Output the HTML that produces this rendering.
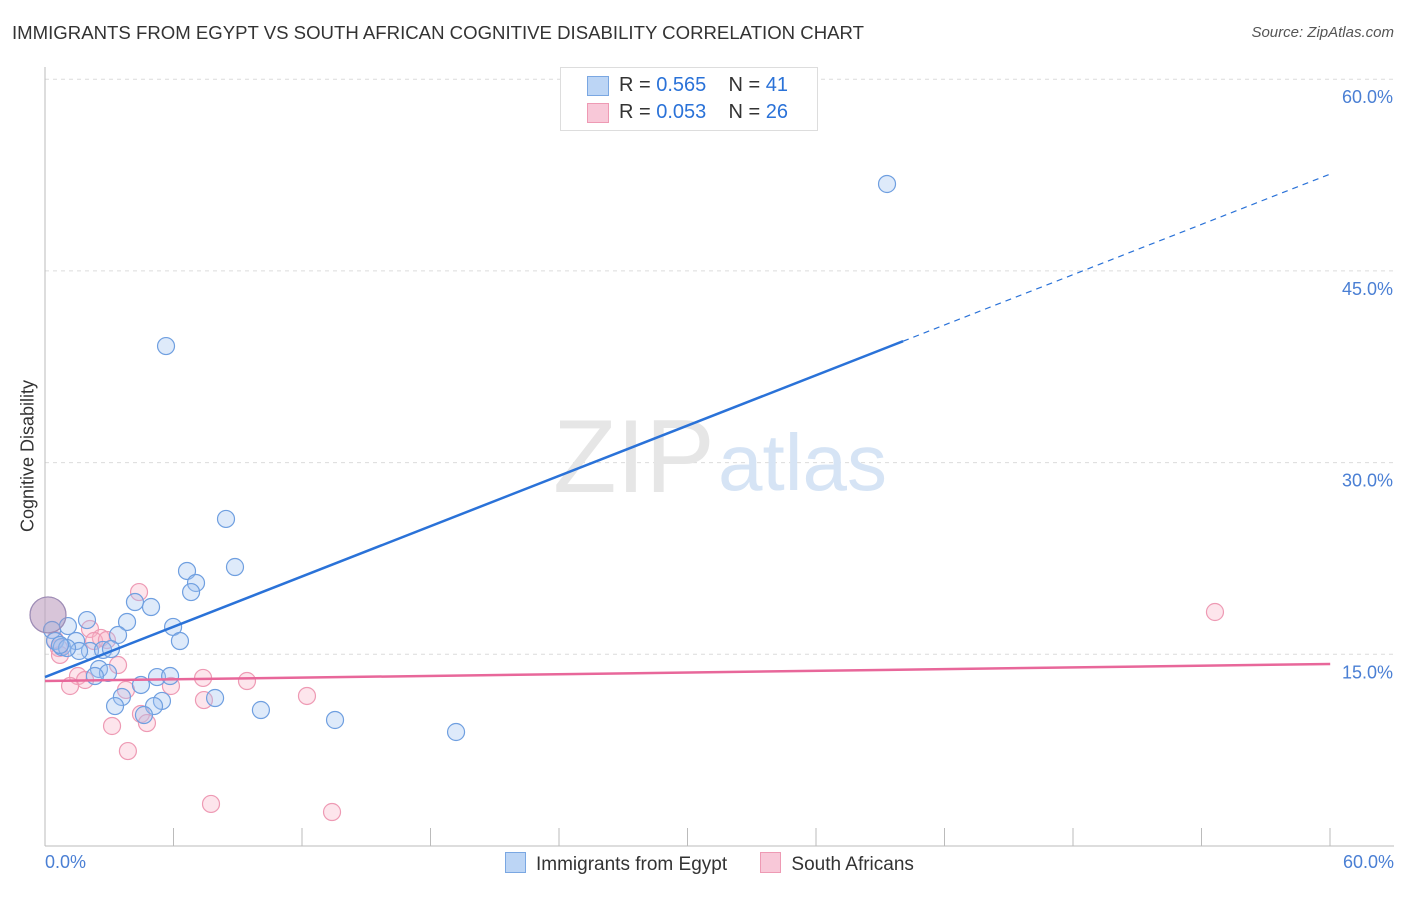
<!DOCTYPE html>
<html><head><meta charset="utf-8"><style>
body{margin:0;background:#fff;font-family:"Liberation Sans",sans-serif}
svg text{font-family:"Liberation Sans",sans-serif}
</style></head><body>
<svg id="c" width="1406" height="892"></svg>
<script>
const blueX=[39.31,5.65,8.45,8.87,6.63,7.05,6.82,4.20,4.95,1.96,3.83,5.98,1.07,0.33,3.41,6.30,0.47,1.45,0.79,2.10,2.71,3.08,1.59,1.03,2.52,2.94,2.33,5.23,5.84,4.48,3.59,7.94,5.46,3.27,5.09,4.62,10.08,13.54,19.19,0.14,0.70];
const blueY=[51.80,39.12,25.59,21.83,21.52,20.58,19.87,19.09,18.70,17.68,17.53,17.14,17.21,16.90,16.51,16.04,16.04,16.04,15.57,15.26,15.34,15.41,15.26,15.49,13.85,13.54,13.30,13.22,13.30,12.60,11.66,11.58,11.35,10.95,10.95,10.25,10.64,9.86,8.92,18.08,15.73];
const pinkX=[54.62,4.39,2.10,2.61,2.29,2.89,0.65,0.70,3.41,1.54,1.87,1.17,3.78,5.88,7.38,9.43,7.42,12.23,4.48,3.13,4.76,3.87,7.75,13.40,0.14,0.47];
const pinkY=[18.31,19.87,16.98,16.28,16.04,16.12,15.49,14.95,14.16,13.30,12.99,12.52,12.21,12.52,13.15,12.91,11.42,11.74,10.33,9.39,9.62,7.43,3.29,2.66,18.08,16.12];
const blueTrend=[13.22,52.58]; // y at x=0 and x=60
const pinkTrend=[12.91,14.24];
const yTicks=[15,30,45,60];
const yTickLabels=["15.0%","30.0%","45.0%","60.0%"];
const blueSolidEnd=40.06;

const NS="http://www.w3.org/2000/svg",svg=document.getElementById('c');
const X=v=>45+v*21.42, Y=v=>846-v*12.78;
function el(t,a,p){const e=document.createElementNS(NS,t);for(const k in a)e.setAttribute(k,a[k]);(p||svg).appendChild(e);return e;}
yTicks.forEach((t,i)=>{
 const g=el('line',{x1:45,x2:1394,y1:Y(t),y2:Y(t),stroke:'#dcdcdc','stroke-dasharray':'4,4'});
 
 
 const tx=el('text',{x:1393,y:Y(t)+24,'text-anchor':'end','font-size':18,fill:'#4a7fd4'});tx.textContent=yTickLabels[i];
 
 
});
const ax=el('line',{x1:45,x2:45,y1:67,y2:846,stroke:'#bbb'});

const bx=el('line',{x1:45,x2:1394,y1:846,y2:846,stroke:'#bbb'});

for(let i=1;i<=10;i++){const tk=el('line',{x1:45+i*128.5,x2:45+i*128.5,y1:828,y2:846,stroke:'#bbb'});
 }
const wm=el('text',{x:553,y:492,'font-size':104,fill:'#e6e6e6','font-family':'Liberation Serif'});wm.textContent='ZIP';

const wm2=el('text',{x:718,y:490,'font-size':80,fill:'#d6e4f5'});wm2.textContent='atlas';

pinkX.forEach((x,i)=>{const big=i==24;const c=el('circle',{cx:X(x),cy:Y(pinkY[i]),r:big?18:8.5,fill:'rgba(248,180,200,0.35)',stroke:'#ee9ab4','stroke-width':1.2});
 });
blueX.forEach((x,i)=>{const big=i==39;const c=el('circle',{cx:X(x),cy:Y(blueY[i]),r:big?18:8.5,fill:big?'rgba(160,150,190,0.4)':'rgba(160,196,240,0.35)',stroke:big?'#9a8fb8':'#6f9fe0','stroke-width':1.2});
 });
const by=x=>blueTrend[0]+(blueTrend[1]-blueTrend[0])*x/60;
const t1=el('line',{x1:X(0),y1:Y(by(0)),x2:X(blueSolidEnd),y2:Y(by(blueSolidEnd)),stroke:'#2a72d8','stroke-width':2.5});

const t2=el('line',{x1:X(blueSolidEnd),y1:Y(by(blueSolidEnd)),x2:X(60),y2:Y(by(60)),stroke:'#2a72d8','stroke-width':1.2,'stroke-dasharray':'6,5'});

const t3=el('line',{x1:X(0),y1:Y(pinkTrend[0]),x2:X(60),y2:Y(pinkTrend[1]),stroke:'#e8679a','stroke-width':2.5});

</script>
<div style="position:absolute;left:12px;top:22px;font-size:18.6px;color:#333">IMMIGRANTS FROM EGYPT VS SOUTH AFRICAN COGNITIVE DISABILITY CORRELATION CHART</div>
<div style="position:absolute;right:12px;top:24px;font-size:15px;color:#555;font-style:italic">Source: ZipAtlas.com</div>
<div style="position:absolute;left:28px;top:456px;transform:translate(-50%,-50%) rotate(-90deg);font-size:18px;color:#333;white-space:nowrap">Cognitive Disability</div>
<div style="position:absolute;left:45px;top:852px;font-size:18px;color:#4a7fd4">0.0%</div>
<div style="position:absolute;right:12px;top:852px;font-size:18px;color:#4a7fd4">60.0%</div>
<div style="position:absolute;left:560px;top:67px;width:256px;height:62px;border:1px solid #ddd;background:#fff;font-size:20px;color:#333">
 <div style="position:absolute;left:26px;top:8px;width:20px;height:18px;background:#bcd5f5;border:1px solid #7aa7e2"></div>
 <div style="position:absolute;left:58px;top:6px">R = <span style="color:#2a72d8">0.565</span>&nbsp;&nbsp;&nbsp; N = <span style="color:#2a72d8">41</span></div>
 <div style="position:absolute;left:26px;top:35px;width:20px;height:18px;background:#f8c8d8;border:1px solid #ee9ab4"></div>
 <div style="position:absolute;left:58px;top:33px">R = <span style="color:#2a72d8">0.053</span>&nbsp;&nbsp;&nbsp; N = <span style="color:#2a72d8">26</span></div>
</div>
<div style="position:absolute;left:505px;top:852px;font-size:19px;color:#333;white-space:nowrap">
 <span><span style="display:inline-block;width:19px;height:19px;background:#bcd5f5;border:1px solid #7aa7e2;vertical-align:-3px;margin-right:10px"></span>Immigrants from Egypt</span>
 <span style="margin-left:28px"><span style="display:inline-block;width:19px;height:19px;background:#f8c8d8;border:1px solid #ee9ab4;vertical-align:-3px;margin-right:10px"></span>South Africans</span>
</div>
</body></html>
